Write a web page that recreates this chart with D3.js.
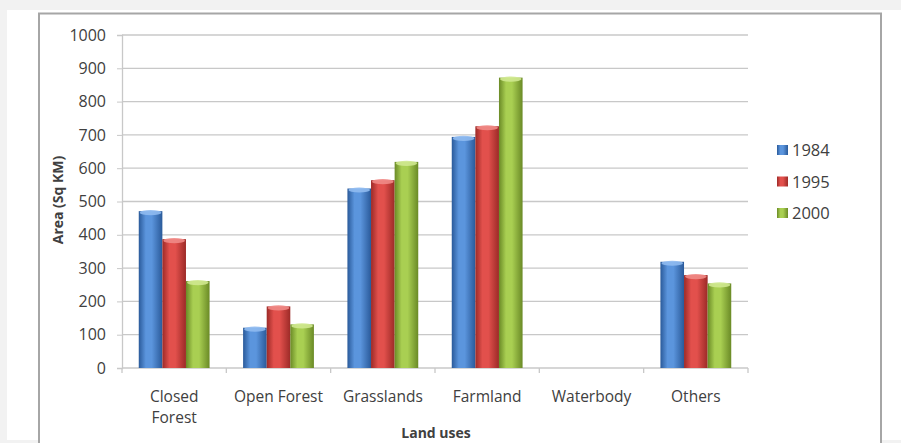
<!DOCTYPE html>
<html>
<head>
<meta charset="utf-8">
<script src="https://cdn.jsdelivr.net/npm/d3@7"></script>
<style>
  html, body { margin: 0; padding: 0; background: #f2f2f2; }
  svg { display: block; }
  text { font-family: "Open Sans", "DejaVu Sans", sans-serif; fill: #404040; }
</style>
</head>
<body>
<svg id="chart" width="901" height="443"></svg>
<script>
// Land use areas (sq km) by year
const categories = ["Closed Forest", "Open Forest", "Grasslands", "Farmland", "Waterbody", "Others"];
const years = ["1984", "1995", "2000"];
const values1984 = [471, 121, 539, 694, 0, 319];
const values1995 = [387, 185, 564, 726, 0, 279];
const values2000 = [261, 131, 619, 872, 0, 254];
const yTicks = [0, 100, 200, 300, 400, 500, 600, 700, 800, 900, 1000];

const seriesValues = [values1984, values1995, values2000];
const palette = [
  { edge: "#2a5a9a", mid: "#5b95dd", light: "#8fbaf0" },
  { edge: "#9c2a27", mid: "#e2504c", light: "#f08a86" },
  { edge: "#6a8a26", mid: "#a9cf52", light: "#cfe88f" }
];

const svg = d3.select("#chart");
const W = 901;

// page frame and chart border
svg.append("rect").attr("x", 7).attr("y", 10).attr("width", W - 7).attr("height", 430).attr("fill", "#ffffff");
svg.append("rect").attr("x", 39).attr("y", 13.5).attr("width", 842).attr("height", 450)
  .attr("fill", "#ffffff").attr("stroke", "#a6a6a6").attr("stroke-width", 2);

const margin = { left: 122, right: 748, top: 35, bottom: 368 };

const x0 = d3.scaleBand().domain(categories).range([margin.left, margin.right]).paddingInner(0).paddingOuter(0);
const x1 = d3.scaleBand().domain(years).range([0, x0.bandwidth()]).paddingInner(0).paddingOuter(0.71);
const y = d3.scaleLinear().domain([0, 1000]).range([margin.bottom, margin.top]);

// gradients for cylindrical bars
const defs = svg.append("defs");
palette.forEach((p, i) => {
  const g = defs.append("linearGradient").attr("id", "bar" + i).attr("x1", "0%").attr("x2", "100%").attr("y1", "0%").attr("y2", "0%");
  g.append("stop").attr("offset", "0%").attr("stop-color", p.edge);
  g.append("stop").attr("offset", "30%").attr("stop-color", p.mid);
  g.append("stop").attr("offset", "55%").attr("stop-color", p.mid);
  g.append("stop").attr("offset", "100%").attr("stop-color", p.edge);
});

// gridlines
const grid = svg.append("g");
grid.selectAll("line").data(yTicks.filter(d => d > 0)).join("line")
  .attr("x1", margin.left).attr("x2", margin.right)
  .attr("y1", d => y(d)).attr("y2", d => y(d))
  .attr("stroke", "#c8c8c8").attr("stroke-width", 1.3);

// y axis
const yAxis = svg.append("g").attr("transform", `translate(${margin.left},0)`)
  .call(d3.axisLeft(y).tickValues(yTicks).tickFormat(d3.format("d")).tickSize(5).tickPadding(11));
yAxis.select(".domain").attr("stroke", "#c8c8c8").attr("stroke-width", 1.3);
yAxis.selectAll(".tick line").attr("stroke", "#c8c8c8");
yAxis.selectAll("text").attr("font-size", 16).attr("fill", "#404040")
  .style("font-family", '"Open Sans", sans-serif');

// x axis
const xAxis = svg.append("g").attr("transform", `translate(0,${margin.bottom})`);
xAxis.append("line").attr("x1", margin.left).attr("x2", margin.right).attr("stroke", "#c8c8c8").attr("stroke-width", 1.3);
xAxis.selectAll("line.tk").data(d3.range(categories.length + 1)).join("line").attr("class", "tk")
  .attr("x1", i => margin.left + i * x0.bandwidth()).attr("x2", i => margin.left + i * x0.bandwidth())
  .attr("y1", 0).attr("y2", 5).attr("stroke", "#c8c8c8").attr("stroke-width", 1.3);

const catLabels = svg.append("g").selectAll("text").data(categories).join("text")
  .attr("x", d => x0(d) + x0.bandwidth() / 2).attr("y", 402)
  .attr("text-anchor", "middle").attr("font-size", 15.5);
catLabels.each(function (d) {
  const t = d3.select(this);
  const lines = d === "Closed Forest" ? ["Closed", "Forest"] : [d];
  lines.forEach((l, i) => t.append("tspan").attr("x", x0(d) + x0.bandwidth() / 2).attr("dy", i ? 21 : 0).text(l));
});

// bars
const groups = svg.append("g").selectAll("g").data(categories).join("g")
  .attr("transform", d => `translate(${x0(d)},0)`);
years.forEach((yr, s) => {
  const bw = x1.bandwidth();
  groups.filter((d, i) => seriesValues[s][i] > 0).each(function (d) {
    const i = categories.indexOf(d);
    const v = seriesValues[s][i];
    const g = d3.select(this);
    const top = y(v), base = y(0);
    g.append("rect").attr("x", x1(yr)).attr("y", top).attr("width", bw).attr("height", base - top)
      .attr("fill", `url(#bar${s})`);
    g.append("ellipse").attr("cx", x1(yr) + bw / 2).attr("cy", top + 1.5).attr("rx", bw / 2 - 1).attr("ry", 2.6)
      .attr("fill", palette[s].light).attr("opacity", 0.9);
  });
});

// axis titles
svg.append("text").attr("transform", "translate(63,200) rotate(-90)")
  .attr("text-anchor", "middle").attr("font-size", 14).attr("font-weight", "bold").attr("fill", "#262626")
  .text("Area (Sq KM)");
svg.append("text").attr("x", 436).attr("y", 438).attr("text-anchor", "middle")
  .attr("font-size", 14).attr("font-weight", "bold").attr("fill", "#262626").text("Land uses");

// legend
const legend = svg.append("g").selectAll("g").data(years).join("g")
  .attr("transform", (d, i) => `translate(777,${150 + i * 31.5})`);
legend.append("rect").attr("x", 0).attr("y", -5).attr("width", 11).attr("height", 10)
  .attr("fill", (d, i) => `url(#bar${i})`);
legend.append("text").attr("x", 15).attr("y", 6).attr("font-size", 16.5).text(d => d);
</script>
</body>
</html>
